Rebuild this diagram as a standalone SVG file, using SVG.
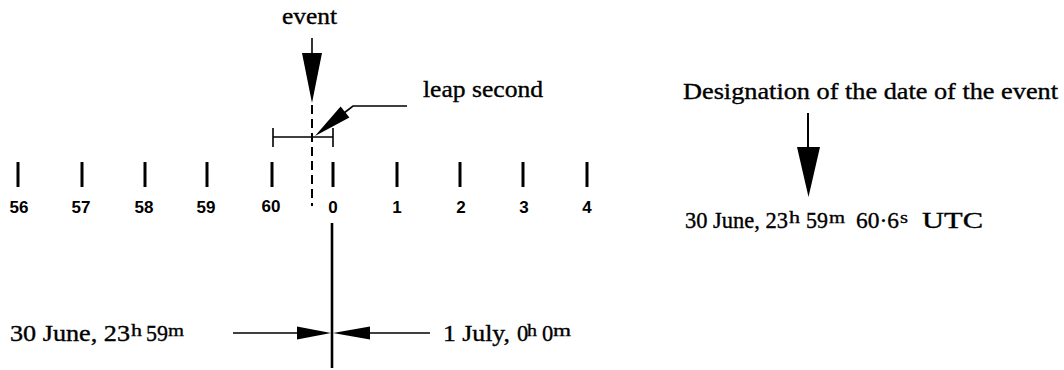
<svg xmlns="http://www.w3.org/2000/svg" width="1064" height="370" viewBox="0 0 1064 370">
<style>
.t{font-family:"Liberation Serif","Times New Roman",serif;font-size:22.5px;fill:#000;stroke:#000;stroke-width:0.35}
.sup{font-family:"Liberation Serif","Times New Roman",serif;font-size:16px;fill:#000;stroke:#000;stroke-width:0.3}
.n{font-family:"Liberation Sans",Arial,sans-serif;font-weight:bold;font-size:17px;text-anchor:middle;fill:#000}
.tick{stroke:#000;stroke-width:3;fill:none}
.ln{stroke:#000;stroke-width:1.6;fill:none}
.head{fill:#000;stroke:none}
</style>
<rect width="1064" height="370" fill="#fff"/>

<g id="scale">
  <line class="tick" x1="18" y1="162" x2="18" y2="187"/>
  <line class="tick" x1="82" y1="162" x2="82" y2="187"/>
  <line class="tick" x1="145" y1="162" x2="145" y2="187"/>
  <line class="tick" x1="207" y1="162" x2="207" y2="187"/>
  <line class="tick" x1="272" y1="162" x2="272" y2="187"/>
  <line class="tick" x1="333" y1="162" x2="333" y2="187"/>
  <line class="tick" x1="397" y1="162" x2="397" y2="187"/>
  <line class="tick" x1="460" y1="162" x2="460" y2="187"/>
  <line class="tick" x1="523" y1="162" x2="523" y2="187"/>
  <line class="tick" x1="587" y1="162" x2="587" y2="187"/>
  <text class="n" x="19" y="213">56</text>
  <text class="n" x="81" y="213">57</text>
  <text class="n" x="144" y="213">58</text>
  <text class="n" x="206" y="213">59</text>
  <text class="n" x="271" y="212">60</text>
  <text class="n" x="333" y="213">0</text>
  <text class="n" x="397" y="213">1</text>
  <text class="n" x="461" y="213">2</text>
  <text class="n" x="524" y="213">3</text>
  <text class="n" x="587" y="213">4</text>
</g>

<g id="event">
  <text class="t" x="282" y="24" textLength="55" lengthAdjust="spacingAndGlyphs">event</text>
</g>

<g id="leap-second">
  <line class="ln" x1="273" y1="128" x2="273" y2="147"/>
  <line class="ln" x1="333" y1="128" x2="333" y2="147"/>
  <line class="ln" x1="273" y1="137" x2="333" y2="137"/>
  <text class="t" x="423" y="97" textLength="120" lengthAdjust="spacingAndGlyphs">leap second</text>
</g>

<g id="boundary">
  <text class="t" x="10" y="341" textLength="120" lengthAdjust="spacingAndGlyphs">30 June, 23</text>
  <text class="sup" x="131" y="336" textLength="11" lengthAdjust="spacingAndGlyphs">h</text>
  <text class="t" x="146" y="341" textLength="22" lengthAdjust="spacingAndGlyphs">59</text>
  <text class="sup" x="168" y="336" textLength="16" lengthAdjust="spacingAndGlyphs">m</text>
  <text class="t" x="443" y="341" textLength="67" lengthAdjust="spacingAndGlyphs">1 July,</text>
  <text class="t" x="517" y="341">0</text>
  <text class="sup" x="527" y="336" textLength="10" lengthAdjust="spacingAndGlyphs">h</text>
  <text class="t" x="542" y="341">0</text>
  <text class="sup" x="553" y="336" textLength="18" lengthAdjust="spacingAndGlyphs">m</text>
</g>

<g id="designation">
  <text class="t" x="683" y="99" textLength="375" lengthAdjust="spacingAndGlyphs">Designation of the date of the event</text>
  <text class="t" x="685" y="228" textLength="103" lengthAdjust="spacingAndGlyphs">30 June, 23</text>
  <text class="sup" x="789" y="223" textLength="11" lengthAdjust="spacingAndGlyphs">h</text>
  <text class="t" x="806" y="228" textLength="22" lengthAdjust="spacingAndGlyphs">59</text>
  <text class="sup" x="829" y="223" textLength="16" lengthAdjust="spacingAndGlyphs">m</text>
  <text class="t" x="856" y="228" textLength="43" lengthAdjust="spacingAndGlyphs">60·6</text>
  <text class="sup" x="900" y="223" textLength="8" lengthAdjust="spacingAndGlyphs">s</text>
  <text class="t" x="922" y="228" font-size="24" textLength="61" lengthAdjust="spacingAndGlyphs">UTC</text>
</g>

<g id="connectors">
  <line class="ln" x1="312" y1="38" x2="312" y2="56" stroke-width="2"/>
  <polygon class="head" points="302,53 322,53 312,103"/>
  <line x1="312" y1="105" x2="312" y2="206" stroke="#000" stroke-width="2" stroke-dasharray="9 5"/>
  <polyline class="ln" points="407,106 353,106 344,113"/>
  <polygon class="head" points="315,136 340.6,106.5 349.4,117.5"/>
  <line x1="332" y1="223" x2="332" y2="368" stroke="#000" stroke-width="2.6"/>
  <line class="ln" x1="233" y1="333" x2="300" y2="333"/>
  <polygon class="head" points="297,326.5 297,339.5 331,333"/>
  <line class="ln" x1="367" y1="333" x2="430" y2="333"/>
  <polygon class="head" points="370,326.5 370,339.5 333,333"/>
  <line x1="808" y1="113" x2="808" y2="150" stroke="#000" stroke-width="2"/>
  <polygon class="head" points="797,147 820,147 808.5,197"/>
</g>
</svg>
